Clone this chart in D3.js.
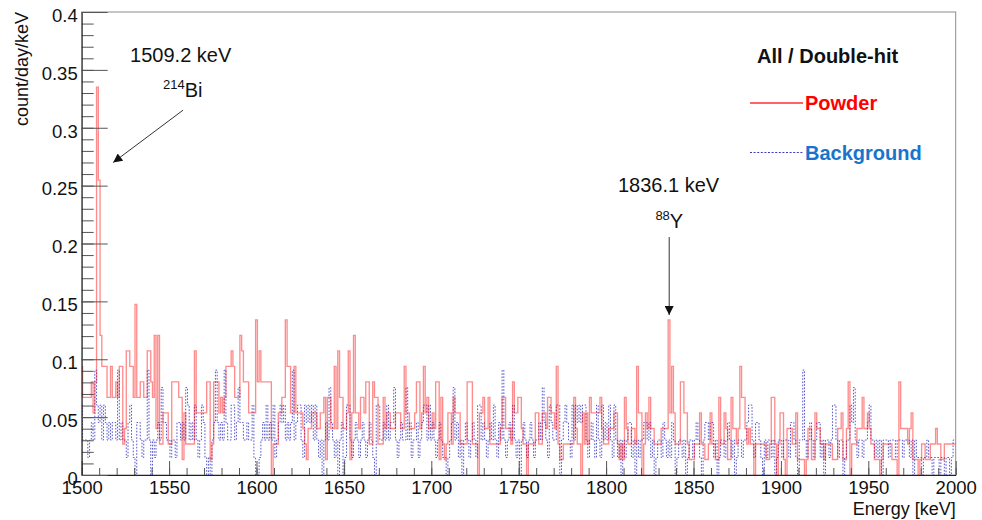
<!DOCTYPE html>
<html>
<head>
<meta charset="utf-8">
<script src="https://cdn.jsdelivr.net/npm/d3@7"></script>
<style>
  html, body { margin: 0; padding: 0; background: #fff; }
  svg { display: block; font-family: "Liberation Sans", Arial, Helvetica, sans-serif; }
</style>
</head>
<body>
<svg id="chart" width="982" height="520"></svg>
<script>
// Energy spectrum, 1 keV bins centred on integer keV (1500 ... 2000 keV)
const binStart = 1500;
const binWidth = 1;

// Live time of each run in days: counts / days / keV -> count/day/keV
const powderDays = 74.6;
const backgroundDays = 66.2;

// Powder sample, counts per 1 keV bin
const powderCounts = [
  7,5,5,5,5,5,6,4,6,25,   19,9,7,7,7,5,5,7,5,5,   6,5,7,7,2,3,8,8,7,7,   5,11,5,5,6,6,5,5,8,8,
  6,5,9,3,9,2,2,4,4,4,    2,2,6,6,6,6,5,5,1,4,    2,2,2,2,2,8,4,4,4,4,   4,4,6,6,1,2,6,6,6,4,
  5,4,5,7,7,7,8,7,5,5,    5,9,8,6,6,6,4,4,4,4,    10,6,8,6,6,6,6,6,6,0,  2,2,2,4,4,5,5,10,7,7,
  4,4,7,4,4,4,4,3,2,1,    3,3,4,4,4,3,3,4,4,5,    1,5,5,3,3,7,3,8,5,5,   3,3,4,8,1,4,9,4,4,3,
  5,5,4,6,6,2,2,6,5,5,    2,2,2,5,3,4,4,3,3,3,    4,4,4,3,3,7,4,4,3,3,   3,4,6,6,3,4,7,4,5,3,
  3,4,3,6,6,1,5,2,1,2,    4,4,2,5,4,4,4,2,2,2,    2,6,6,6,2,2,2,0,4,4,   5,3,3,5,2,2,2,2,2,2,
  3,5,5,3,3,3,2,6,4,4,    5,5,3,2,2,0,2,2,2,2,    4,4,2,2,4,4,3,5,5,4,   4,3,7,2,1,1,2,2,2,2,
  2,2,5,3,2,2,0,4,2,4,    2,5,4,4,4,4,4,5,3,2,    2,2,3,3,3,4,4,2,1,2,   1,5,3,2,2,3,3,2,7,4,
  4,0,2,4,3,5,3,3,2,2,    2,2,3,3,3,3,10,4,7,4,   2,2,2,6,6,4,4,2,1,1,   1,2,2,2,4,2,2,1,1,2,
  4,2,2,1,1,5,2,2,4,3,    1,1,5,3,3,2,3,7,5,5,    3,2,3,2,2,0,2,2,2,2,   2,2,1,1,2,5,5,2,0,2,
  4,4,1,0,3,3,3,2,2,4,    1,1,1,1,0,1,3,3,1,1,    4,3,3,2,2,1,2,2,2,2,   1,1,1,3,3,4,1,1,3,6,
  0,2,2,2,3,3,3,5,3,3,    4,3,2,2,1,1,1,0,1,2,    2,2,2,2,1,1,1,0,6,3,   3,3,3,2,3,4,1,1,1,0,
  1,2,2,1,1,1,2,2,2,3,    2,2,1,1,2,2,2,2,2,2,    2
];

// Background run, counts per 1 keV bin
const backgroundCounts = [
  4,2,2,2,1,2,3,2,6,4,    3,4,2,4,3,2,3,2,3,3,    2,6,2,3,2,2,1,3,4,2,   1,0,3,3,2,1,2,2,6,2,
  0,2,1,2,3,2,5,3,3,2,    2,1,2,2,1,3,3,2,3,2,    5,4,2,3,2,4,2,1,2,4,   3,1,0,1,0,2,3,6,3,2,
  3,2,6,3,2,2,4,4,2,3,    5,3,3,2,2,3,2,2,4,1,    0,0,1,2,3,2,4,2,3,2,   4,1,2,3,4,3,4,2,3,2,
  3,6,2,3,4,4,2,1,4,3,    4,3,4,2,4,2,1,2,0,2,    3,2,5,3,2,1,2,0,2,3,   0,1,4,4,2,1,2,3,2,1,
  2,3,2,1,2,3,2,1,0,4,    4,2,2,3,2,4,2,3,3,5,    2,1,2,3,2,2,5,2,3,1,   2,2,3,1,2,3,4,4,2,4,
  2,3,2,1,2,3,2,1,1,0,    1,2,3,5,2,3,1,2,0,2,    3,2,1,2,3,2,1,4,4,2,   3,2,1,2,3,2,4,2,1,3,
  2,6,2,1,2,3,2,4,2,1,    2,0,2,3,2,1,2,3,2,1,    2,2,3,2,5,3,2,1,4,3,   2,2,4,4,0,2,3,4,3,2,
  1,4,2,4,3,4,3,4,4,2,    1,2,3,2,1,4,2,1,4,2,    3,2,4,2,1,4,2,1,2,0,   2,1,2,3,3,1,2,0,2,1,
  2,2,3,3,2,3,1,2,0,1,    2,2,1,3,2,1,2,1,3,2,    0,1,2,2,1,2,0,1,2,2,   1,2,3,2,1,0,2,3,3,2,
  3,3,1,2,0,1,2,2,1,2,    3,2,1,2,0,1,2,2,1,2,    2,3,4,4,2,1,3,3,2,1,   0,2,1,2,2,1,2,0,1,2,
  2,1,2,2,2,1,3,3,2,1,    0,2,2,6,2,1,2,3,2,1,    2,3,3,1,2,0,2,2,1,2,   4,4,2,1,2,2,0,1,2,2,
  4,3,5,2,1,2,2,1,2,2,    3,4,2,2,1,2,1,2,0,2,    2,2,1,2,2,2,1,2,2,2,   1,2,2,2,1,2,0,2,1,1,
  1,0,1,1,2,1,1,0,1,1,    1,0,1,1,0,1,1,0,1,2,    2
];

// Axis ranges and ticks
const xDomain = [1500, 2000];
const yDomain = [0, 0.4];
const xMajorTicks = [1500, 1550, 1600, 1650, 1700, 1750, 1800, 1850, 1900, 1950, 2000];
const xMinorStep = 10;
const yMajorTicks = [0, 0.05, 0.1, 0.15, 0.2, 0.25, 0.3, 0.35, 0.4];
const yMinorStep = 0.01;

// Peak annotations: text position, arrow tail and tip in data coordinates
const peakLabels = ["1509.2 keV", "1836.1 keV"];
const peakIsotopeMass = ["214", "88"];
const peakIsotopeName = ["Bi", "Y"];
const peakTextE = [1527.7, 1806.8];
const peakTextV = [0.357, 0.2445];
const peakIsoE = [1546.5, 1828.2];
const peakIsoV = [0.3265, 0.2135];
const arrowTail = [[1558.0, 0.3152], [1836.1, 0.2056]];
const arrowTip  = [[1518.0, 0.2700], [1836.1, 0.1382]];

const seriesNames = ["Powder", "Background"];

// ---------------------------------------------------------------------------
const svg = d3.select("#chart");
const plot = { left: 81.7, right: 955.7, top: 12, bottom: 475 };

const x = d3.scaleLinear().domain(xDomain).range([plot.left, plot.right]);
const y = d3.scaleLinear().domain(yDomain).range([plot.bottom, plot.top]);

svg.append("defs").append("clipPath").attr("id", "plotClip")
  .append("rect")
  .attr("x", plot.left).attr("y", plot.top - 1)
  .attr("width", plot.right - plot.left).attr("height", plot.bottom - plot.top + 1);

const marker = svg.select("defs").append("marker")
  .attr("id", "arrowHead")
  .attr("viewBox", "0 0 10 10")
  .attr("refX", 10).attr("refY", 5)
  .attr("markerUnits", "userSpaceOnUse")
  .attr("markerWidth", 10).attr("markerHeight", 9)
  .attr("orient", "auto");
marker.append("path").attr("d", "M0,0 L10,5 L0,10 Z").attr("fill", "#111");

// Frame (top and right edges)
svg.append("rect")
  .attr("x", plot.left).attr("y", plot.top)
  .attr("width", plot.right - plot.left).attr("height", plot.bottom - plot.top)
  .attr("fill", "none").attr("stroke", "#8c8c8c").attr("stroke-width", 1);

// Step outline of a histogram
function stepPath(counts, days) {
  const pts = [];
  counts.forEach((c, i) => {
    const centre = binStart + i * binWidth;
    const lo = Math.max(centre - binWidth / 2, xDomain[0]);
    const hi = Math.min(centre + binWidth / 2, xDomain[1]);
    const v = c / days;
    pts.push([x(lo), y(v)], [x(hi), y(v)]);
  });
  return d3.line()(pts);
}

const hist = svg.append("g").attr("clip-path", "url(#plotClip)");

hist.append("path")
  .attr("d", stepPath(backgroundCounts, backgroundDays))
  .attr("fill", "none")
  .attr("stroke", "#3a3ac4")
  .attr("stroke-opacity", 0.85)
  .attr("stroke-width", 1)
  .attr("stroke-dasharray", "1.6,1.6");

hist.append("path")
  .attr("d", stepPath(powderCounts, powderDays))
  .attr("fill", "none")
  .attr("stroke", "#ff0000")
  .attr("stroke-opacity", 0.45)
  .attr("stroke-width", 1.35)
  .attr("stroke-linejoin", "miter");

// Axes: minor ticks first, then major ticks with labels
const xMinor = d3.range(xDomain[0], xDomain[1] + 0.001, xMinorStep);
const yMinor = d3.range(0, 100).map(k => +(k * yMinorStep).toFixed(2)).filter(v => v <= yDomain[1] + 1e-9);

const gx = svg.append("g").attr("transform", `translate(0,${plot.bottom})`);
gx.append("g")
  .call(d3.axisBottom(x).tickValues(xMinor).tickSize(-7).tickSizeOuter(0).tickFormat(""))
  .call(g => g.select(".domain").remove());
gx.append("g")
  .call(d3.axisBottom(x).tickValues(xMajorTicks).tickSize(-14).tickSizeOuter(0)
        .tickPadding(6).tickFormat(d3.format("d")))
  .call(g => g.select(".domain").attr("stroke", "#222"));
gx.selectAll(".tick line").attr("stroke", "#555");
gx.selectAll("text").attr("font-size", 18.5).attr("fill", "#111")
  .attr("font-family", '"Liberation Sans", Arial, sans-serif');

const gy = svg.append("g").attr("transform", `translate(${plot.left},0)`);
gy.append("g")
  .call(d3.axisLeft(y).tickValues(yMinor).tickSize(-12).tickSizeOuter(0).tickFormat(""))
  .call(g => g.select(".domain").remove());
gy.append("g")
  .call(d3.axisLeft(y).tickValues(yMajorTicks).tickSize(-26).tickSizeOuter(0)
        .tickPadding(4).tickFormat(d => d === 0 ? "0" : d3.format("~g")(d)))
  .call(g => g.select(".domain").attr("stroke", "#222"));
gy.selectAll(".tick line").attr("stroke", "#555");
gy.selectAll("text").attr("font-size", 18.5).attr("fill", "#111").attr("dy", "0.5em")
  .attr("font-family", '"Liberation Sans", Arial, sans-serif');

// Axis titles
svg.append("text")
  .attr("transform", `translate(28,${plot.top}) rotate(-90)`)
  .attr("text-anchor", "end")
  .attr("font-size", 18)
  .attr("fill", "#111")
  .text("count/day/keV");

svg.append("text")
  .attr("x", plot.right).attr("y", 515)
  .attr("text-anchor", "end")
  .attr("font-size", 18)
  .attr("fill", "#111")
  .text("Energy [keV]");

// Peak annotations
peakLabels.forEach((lab, i) => {
  svg.append("text")
    .attr("x", x(peakTextE[i])).attr("y", y(peakTextV[i]))
    .attr("font-size", 20).attr("fill", "#111")
    .text(lab);
  const iso = svg.append("text")
    .attr("x", x(peakIsoE[i])).attr("y", y(peakIsoV[i]))
    .attr("font-size", 20).attr("fill", "#111");
  iso.append("tspan").attr("font-size", 13).attr("dy", -8).text(peakIsotopeMass[i]);
  iso.append("tspan").attr("dy", 8).text(peakIsotopeName[i]);
  svg.append("line")
    .attr("x1", x(arrowTail[i][0])).attr("y1", y(arrowTail[i][1]))
    .attr("x2", x(arrowTip[i][0])).attr("y2", y(arrowTip[i][1]))
    .attr("stroke", "#333").attr("stroke-width", 1)
    .attr("marker-end", "url(#arrowHead)");
});

// Legend
const legend = svg.append("g");
legend.append("text")
  .attr("x", 757).attr("y", 63)
  .attr("font-size", 20).attr("font-weight", "bold").attr("fill", "#111")
  .text("All / Double-hit");

const legendRows = [
  { name: seriesNames[0], y: 103, stroke: "#ff3030", dash: null, color: "#ff0000", width: 1.6 },
  { name: seriesNames[1], y: 152.5, stroke: "#3a3ac4", dash: "2,1.6", color: "#1874cd", width: 1 }
];
legendRows.forEach(r => {
  legend.append("line")
    .attr("x1", 750).attr("x2", 803).attr("y1", r.y).attr("y2", r.y)
    .attr("stroke", r.stroke).attr("stroke-width", r.width)
    .attr("stroke-dasharray", r.dash);
  legend.append("text")
    .attr("x", 805).attr("y", r.y + 7)
    .attr("font-size", 20).attr("font-weight", "bold").attr("fill", r.color)
    .text(r.name);
});
</script>
</body>
</html>
